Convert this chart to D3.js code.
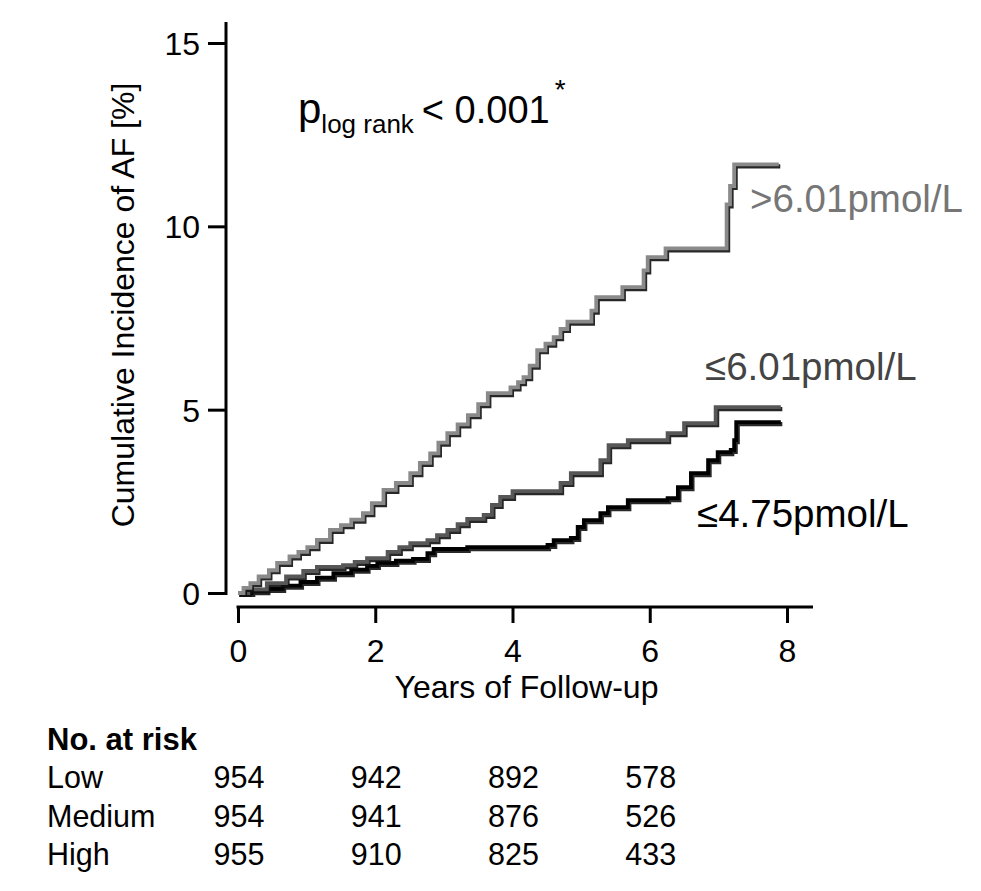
<!DOCTYPE html>
<meta charset="utf-8">
<style>
body { margin: 0; background: #fff; }
text { font-family: "Liberation Sans", Arial, Helvetica, sans-serif; }
.axis path, .axis line { stroke: #000; stroke-width: 3; fill: none; }
.axis text { font-size: 32px; fill: #000; }
</style>
<body>
<script src="https://cdnjs.cloudflare.com/ajax/libs/d3/7.8.5/d3.min.js"></script>
<script>

// cumulative incidence steps [year, percent]
var highSteps = [[0,0],[0.08,0.14],[0.18,0.27],[0.3,0.45],[0.45,0.62],[0.57,0.82],[0.75,1.0],[0.88,1.12],
  [1.01,1.25],[1.15,1.45],[1.34,1.72],[1.5,1.85],[1.65,2.0],[1.82,2.18],[1.95,2.45],[2.12,2.81],
  [2.3,3.0],[2.51,3.27],[2.65,3.55],[2.8,3.81],[2.92,4.1],[3.05,4.36],[3.2,4.6],[3.35,4.85],
  [3.5,5.15],[3.64,5.45],[3.97,5.61],[4.08,5.75],[4.16,5.89],[4.25,6.2],[4.36,6.62],[4.48,6.8],
  [4.6,6.98],[4.7,7.2],[4.8,7.4],[5.15,7.7],[5.22,8.07],[5.6,8.34],[5.91,8.8],[5.97,9.16],
  [6.23,9.4],[7.12,10.6],[7.17,11.1],[7.23,11.69],[7.88,11.69]];

var mediumSteps = [[0,0],[0.15,0.1],[0.42,0.27],[0.7,0.45],[0.95,0.6],[1.15,0.71],[1.53,0.76],[1.7,0.85],
  [1.88,0.95],[2.18,1.12],[2.35,1.25],[2.51,1.36],[2.76,1.44],[2.9,1.58],[3.05,1.72],[3.2,1.88],
  [3.34,2.02],[3.58,2.13],[3.7,2.4],[3.82,2.62],[4.0,2.78],[4.7,3.0],[4.85,3.27],[5.28,3.62],
  [5.4,4.03],[5.68,4.17],[6.26,4.36],[6.5,4.63],[6.96,5.07],[7.91,5.07]];

var lowSteps = [[0,0],[0.2,0.05],[0.42,0.11],[0.65,0.2],[0.91,0.3],[1.15,0.42],[1.39,0.54],[1.65,0.64],
  [1.88,0.74],[2.03,0.82],[2.3,0.88],[2.55,0.93],[2.76,1.09],[2.85,1.2],[3.34,1.25],[4.51,1.31],
  [4.6,1.44],[4.85,1.5],[4.95,1.8],[5.04,1.99],[5.28,2.18],[5.39,2.34],[5.68,2.53],[6.26,2.59],
  [6.41,2.89],[6.6,3.27],[6.85,3.62],[6.99,3.84],[7.18,3.9],[7.23,4.17],[7.26,4.66],[7.91,4.66]];

var xTicks = [0, 2, 4, 6, 8];
var yTicks = [0, 5, 10, 15];

var riskTimes = [0, 2, 4, 6];
var riskGroups = ["Low", "Medium", "High"];
var riskLow = [954, 942, 892, 578];
var riskMedium = [954, 941, 876, 526];
var riskHigh = [955, 910, 825, 433];

var width = 981, height = 891;

var svg = d3.select("body").append("svg")
    .attr("width", width)
    .attr("height", height);

var x = d3.scaleLinear().domain([0, 8]).range([238, 787]);
var y = d3.scaleLinear().domain([0, 15]).range([593, 43]);

// y axis
var yAxis = svg.append("g")
    .attr("class", "axis")
    .attr("transform", "translate(226,0)")
    .call(d3.axisLeft(y).tickValues(yTicks).tickSize(18).tickPadding(8).tickSizeOuter(0));
yAxis.select(".domain").remove();
yAxis.append("line")
    .attr("x1", 0).attr("x2", 0)
    .attr("y1", 22).attr("y2", 595);
yAxis.selectAll(".tick text").attr("dy", "0.36em");

// x axis
var xAxis = svg.append("g")
    .attr("class", "axis")
    .attr("transform", "translate(0,607)")
    .call(d3.axisBottom(x).tickValues(xTicks).tickSize(16).tickPadding(16).tickSizeOuter(0));
xAxis.select(".domain").remove();
xAxis.append("line")
    .attr("x1", x(0) - 1.5).attr("x2", 813)
    .attr("y1", 0).attr("y2", 0);

svg.append("text")
    .attr("x", x(4) + 14)
    .attr("y", 698)
    .attr("text-anchor", "middle")
    .style("font-size", "32px")
    .text("Years of Follow-up");

svg.append("text")
    .attr("transform", "translate(134,305) rotate(-90)")
    .attr("text-anchor", "middle")
    .style("font-size", "32px")
    .text("Cumulative Incidence of AF [%]");

// curves, each with a dark drop shadow
var line = d3.line()
    .x(function(d) { return x(d[0]); })
    .y(function(d) { return y(d[1]); })
    .curve(d3.curveStepAfter);

var curves = [
  {steps: lowSteps, color: "#000"},
  {steps: mediumSteps, color: "#575757"},
  {steps: highSteps, color: "#8a8a8a"}
];

curves.forEach(function(c) {
  svg.append("path")
      .attr("d", line(c.steps))
      .attr("transform", "translate(1.5,2)")
      .attr("fill", "none")
      .attr("stroke", "#111")
      .attr("stroke-width", 4.2)
      .attr("opacity", 0.9);
  svg.append("path")
      .attr("d", line(c.steps))
      .attr("fill", "none")
      .attr("stroke", c.color)
      .attr("stroke-width", 3.8);
});

// curve labels
var labels = [
  {text: ">6.01pmol/L", x: 750, y: 212, color: "#767676"},
  {text: "\u22646.01pmol/L", x: 705, y: 380, color: "#444"},
  {text: "\u22644.75pmol/L", x: 697, y: 527, color: "#000"}
];
svg.selectAll(".curve-label")
  .data(labels)
  .enter().append("text")
    .attr("class", "curve-label")
    .attr("x", function(d) { return d.x; })
    .attr("y", function(d) { return d.y; })
    .attr("fill", function(d) { return d.color; })
    .style("font-size", "38.5px")
    .text(function(d) { return d.text; });

// p value
var p = svg.append("text")
    .attr("x", 298)
    .attr("y", 123)
    .style("font-size", "38px");
p.append("tspan").style("font-size", "42px").text("p");
p.append("tspan").attr("dy", 10).style("font-size", "26px").text("log rank");
p.append("tspan").attr("dy", -10).attr("dx", 8).text("< 0.001");
p.append("tspan").attr("dy", -24).attr("dx", 5).style("font-size", "28px").text("*");

// number at risk table
svg.append("text")
    .attr("x", 47)
    .attr("y", 750)
    .style("font-size", "31px")
    .style("font-weight", "bold")
    .text("No. at risk");

var riskRows = [riskLow, riskMedium, riskHigh];
var rowY = d3.scalePoint().domain(riskGroups).range([788, 865]);

riskGroups.forEach(function(g, i) {
  svg.append("text")
      .attr("x", 47)
      .attr("y", rowY(g))
      .style("font-size", "30.5px")
      .text(g);
  svg.selectAll(".risk-" + i)
    .data(riskRows[i])
    .enter().append("text")
      .attr("class", "risk-" + i)
      .attr("x", function(d, j) { return x(riskTimes[j]) + 1; })
      .attr("y", rowY(g))
      .attr("text-anchor", "middle")
      .style("font-size", "30.5px")
      .text(function(d) { return d; });
});

</script>
